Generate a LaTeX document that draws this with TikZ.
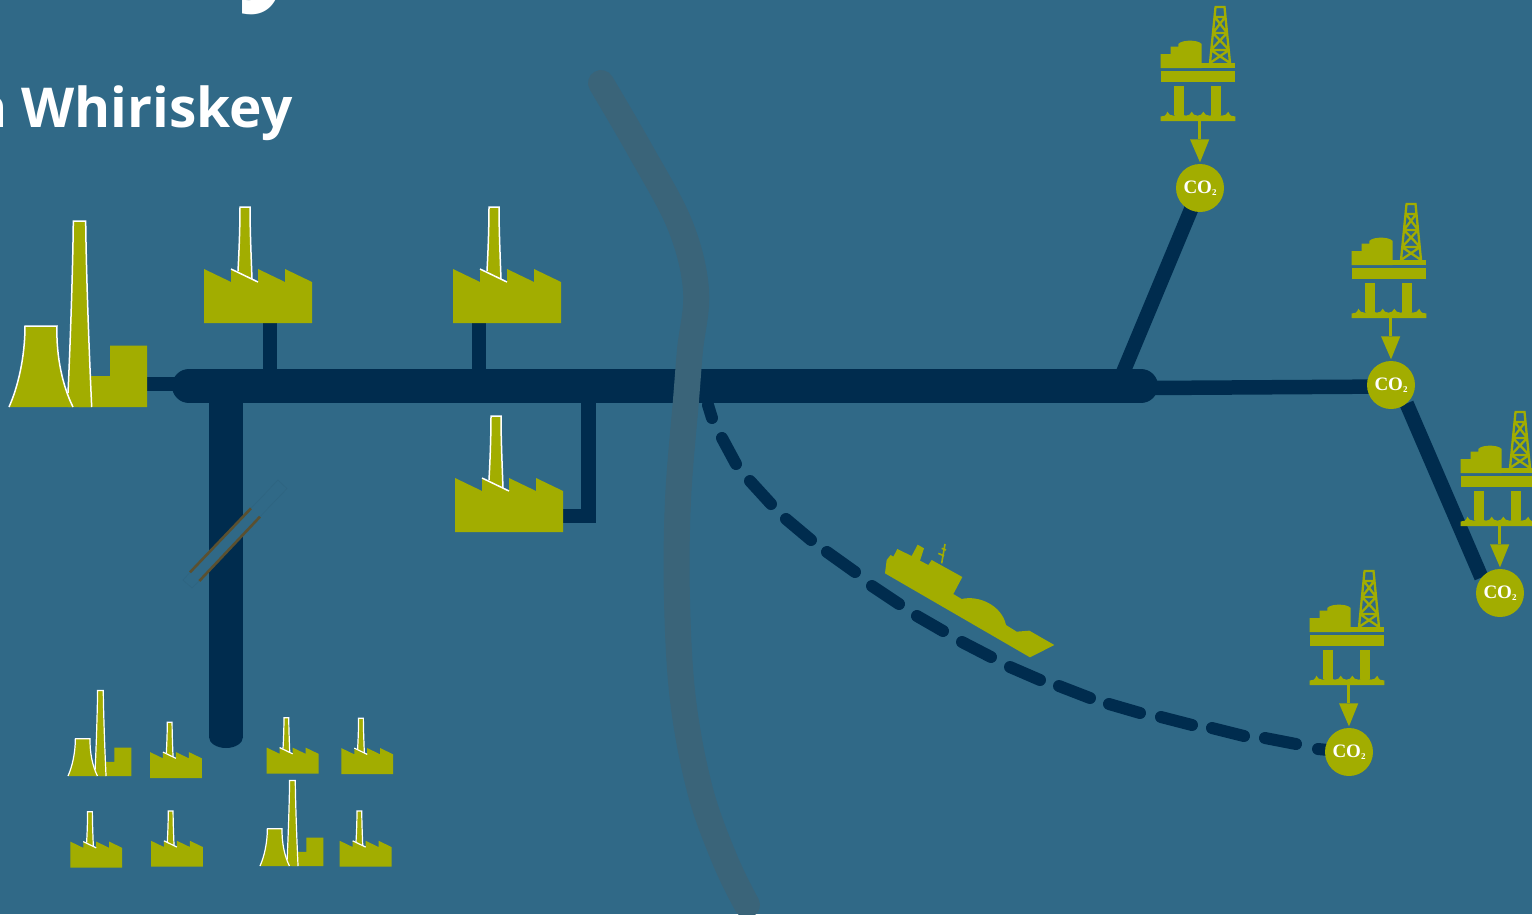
\documentclass[tikz,border=0pt]{standalone}
\usepackage{fontspec}
\setmainfont{Liberation Serif}
\newfontfamily\titlefont{Open Sans}
\usetikzlibrary{calc}
\pgfdeclarelayer{base}\pgfdeclarelayer{pipes}
\pgfsetlayers{base,pipes,main}
\definecolor{sea}{HTML}{306987}
\definecolor{navy}{HTML}{002C4E}
\definecolor{olive}{HTML}{A2AD00}
\definecolor{river}{HTML}{3A6479}
\definecolor{breakc}{HTML}{5A5030}
\newcommand{\cotwo}{CO\raisebox{-2.5pt}{\fontsize{9}{9}\selectfont 2}}
\tikzset{
 x=1pt,y=-1pt,
 bigpipe/.style={draw=navy,line width=34pt},
 thinpipe/.style={draw=navy,line width=14.5pt},
 shippath/.style={draw=navy,line width=12pt,line cap=round},
 co/.style={circle,fill=olive,minimum size=48pt,inner sep=0pt,text=white,font=\fontsize{19}{19}\selectfont\bfseries},
 factory/.pic={
  \coordinate (-stem) at (66,-2);
  \coordinate (-stemB) at (26,-2);
  \coordinate (-side) at (106,-16);
  \fill[olive] (34,-50) .. controls (35,-70) and (36,-95) .. (36,-116) -- (46,-116) .. controls (46,-95) and (47,-70) .. (48,-44) -- cycle;
  \draw[white] (34,-52) .. controls (35,-70) and (36,-95) .. (36,-116) -- (46,-116) .. controls (46,-95) and (47,-70) .. (48,-44);
  \fill[olive] (0,0) -- (0,-54) -- (27,-41) -- (27,-54) -- (54,-41) -- (54,-54) -- (81,-41) -- (81,-54) -- (108,-41) -- (108,0) -- cycle;
  \draw[white] (27,-54) -- (54,-41);
 },
 power/.pic={
  \coordinate (-out) at (136,-23);
  \fill[olive] (70,0) -- (70,-31) -- (101,-31) -- (101,-61.5) -- (138,-61.5) -- (138,0) -- cycle;
  \fill[olive] (59,0) -- (59,-14) .. controls (62,-80) and (64,-150) .. (64.3,-186) -- (76.7,-186) .. controls (77,-150) and (79,-80) .. (82.7,0) -- cycle;
  \draw[white] (59,-14) .. controls (62,-80) and (64,-150) .. (64.3,-186) -- (76.7,-186) .. controls (77,-150) and (79,-80) .. (82.7,0);
  \fill[olive] (0,0) .. controls (9,-20) and (16,-50) .. (16,-81) -- (48,-81) .. controls (47,-50) and (54,-20) .. (64,0) -- cycle;
  \draw[white] (0,0) .. controls (9,-20) and (16,-50) .. (16,-81) -- (48,-81) .. controls (47,-50) and (54,-20) .. (64,0);
 },
 rig/.pic={
  \fill[olive] (-39.3,-116) rectangle (35.3,-105);
  \fill[olive] (1,-124) rectangle (35.3,-119);
  \fill[olive] (-39.3,-119) -- (-39.3,-133) -- (-29.3,-133) -- (-29.3,-140.3) -- (-21.7,-140.3) -- (-21.7,-143) .. controls (-18,-147.5) and (-2,-147.5) .. (1.7,-143) -- (1.7,-119) -- cycle;
  \fill[olive] (-26,-101.3) rectangle (-16.3,-72);
  \fill[olive] (11,-101.3) rectangle (21,-72);
  \fill[olive] (-39.3,-66) -- (-39.3,-70.5) .. controls (-36,-70.5) and (-34,-71) .. (-32.7,-75.3)
   .. controls (-31,-70) and (-22,-70) .. (-20,-75.3) .. controls (-18,-70) and (-10,-70) .. (-8.3,-75.3)
   .. controls (-6.5,-70) and (1.5,-70) .. (3.3,-75.3) .. controls (5,-70) and (14,-70) .. (16,-75.3)
   .. controls (18,-70) and (26,-70) .. (28.3,-75.3) .. controls (30,-71) and (32,-70.5) .. (35.3,-70.5) -- (35.3,-66) -- cycle;
  \draw[olive,line width=2.3pt] (10,-124) -- (15.5,-180) (30,-124) -- (24.5,-180) (14.5,-180) -- (25.5,-180)
   (14.8,-170) -- (25.2,-170) (14.8,-170) -- (27.1,-154) (25.2,-170) -- (12.9,-154)
   (12.9,-154) -- (27.1,-154) (12.9,-154) -- (29.1,-137) (27.1,-154) -- (10.9,-137)
   (10.9,-137) -- (29.1,-137) (10.9,-137) -- (30,-124) (29.1,-137) -- (10,-124);
  \fill[olive] (-2,-66) rectangle (1.3,-48);
  \fill[olive] (-10,-47.7) -- (9.3,-47.7) -- (0,-24.7) -- cycle;
 }
}
\begin{document}
\begin{tikzpicture}
\useasboundingbox (0,0) rectangle (1532,914);
\begin{pgfonlayer}{base}
\fill[sea] (0,0) rectangle (1532,914);
\end{pgfonlayer}
\begin{scope}
\clip (0,0) rectangle (1532,914);
% title fragments
\node[anchor=base west,inner sep=0pt,text=white,font=\titlefont\bfseries\fontsize{55}{55}\selectfont] (title) at (-29,127) {n Whiriskey};
\node[anchor=base west,inner sep=0pt,text=white,font=\titlefont\bfseries\fontsize{118}{118}\selectfont] (titletop) at (238,-14) {y};
% emitters
\pic (p0) [line width=1.5pt] at (9,407) {power};
\pic (f1) [line width=1.5pt] at (204,323) {factory};
\pic (f2) [line width=1.5pt] at (453,323) {factory};
\pic (f3) [line width=1.5pt] at (455,532) {factory};
\pic (p1) [scale=.46,line width=1.2pt] at (68,776) {power};
\pic (p2) [scale=.46,line width=1.2pt] at (260,866) {power};
\pic (s1) [scale=.48,line width=1.2pt] at (150,778) {factory};
\pic (s2) [scale=.48,line width=1.2pt] at (266.7,773.5) {factory};
\pic (s3) [scale=.48,line width=1.2pt] at (341.3,774) {factory};
\pic (s4) [scale=.48,line width=1.2pt] at (70.3,867.5) {factory};
\pic (s5) [scale=.48,line width=1.2pt] at (151,866.7) {factory};
\pic (s6) [scale=.48,line width=1.2pt] at (339.7,866.7) {factory};
% rigs and CO2 nodes
\pic (r1) at (1200,187) {rig};
\pic (r2) at (1391,384) {rig};
\pic (r3) at (1500,592) {rig};
\pic (r4) at (1349,751) {rig};
\node[co] (co1) at (1200,188) {\cotwo};
\node[co] (co2) at (1391,385) {\cotwo};
\node[co] (co3) at (1500,593) {\cotwo};
\node[co] (co4) at (1349,752) {\cotwo};
% river
\draw[river,line width=26pt,line cap=round,line join=round] plot[smooth,tension=.6] coordinates {(601,83) (640,150) (680,225) (696,290) (690,350) (686,400) (678,500) (677,600) (683,700) (700,790) (725,860) (747,905)};
% ship
\begin{scope}[shift={(870,530)},scale=1/3]
\fill[olive] (45,130) -- (50,90) -- (62,75) -- (70,80) -- (82,57) -- (125,78) -- (143,44) -- (162,55) -- (150,92) -- (175,105) -- (185,90) -- (277,141) -- (250,192) -- (275,207) .. controls (325,195) and (395,225) .. (408,285) -- (440,305) -- (478,302) -- (553,345) -- (480,382) -- cycle;
\draw[olive,line width=1.6pt] (215,100) -- (225,42) (205,70) -- (222,78) (215,55) -- (228,60);
\end{scope}
\end{scope}
\coordinate (mainL) at (189,386);
\coordinate (mainR) at (1141,386);
\coordinate (downEnd) at (226,738);
\coordinate (elbow) at (588.5,516);
\coordinate (tee) at (1122,375);
\coordinate (teeR) at (1150,388);
\coordinate (shipStart) at (708,405);
\begin{pgfonlayer}{pipes}
\draw[bigpipe,line cap=round] (mainL) -- (mainR);
\draw[thinpipe] (p0-out) -- (p0-out -| mainL);
\draw[thinpipe] (f1-stem) -- (f1-stem |- mainL);
\draw[thinpipe] (f2-stemB) -- (f2-stemB |- mainL);
\draw[thinpipe,line join=miter] (f3-side) -- (elbow) -- (elbow |- mainL);
\draw[bigpipe] (226,390) -- (downEnd);
\fill[navy] (209,737) arc[start angle=180,end angle=0,x radius=17,y radius=11] -- cycle;
\draw[thinpipe] (tee) -- (co1.center);
\draw[thinpipe] (teeR) -- ($(co2.center)+(0,1.5)$);
\draw[thinpipe] (co2.-50) -- (co3.140);
\draw[shippath] (shipStart) -- (712,418) (722,438) -- (736,464) (750,481) -- (771,504) (786,519) -- (811,540) (827,552) -- (855,572) (872,586) -- (899,604) (917,616) -- (943,631) (962,642) -- (991,657) (1010,667) -- (1040,680) (1059,686) -- (1090,698) (1109,704) -- (1140,713) (1161,717) -- (1192,725) (1212,728) -- (1244,736) (1265,738) -- (1296,744) (1318,749) -- (co4.center);
\end{pgfonlayer}
% pipe break
\fill[sea] (190,572.3) -- (251,508.3) -- (260,516.7) -- (199.3,581) -- cycle;
\draw[breakc,line width=2.6pt] (190,572.3) -- (251,508.3) (199.3,581) -- (260,516.7);
\draw[sea!95!black,line width=.5pt] (251,508.3) -- (278,480) -- (287,488.5) -- (260,516.7) (190,572.3) -- (183,580) -- (192,588) -- (199.3,581);
\end{tikzpicture}
\end{document}
